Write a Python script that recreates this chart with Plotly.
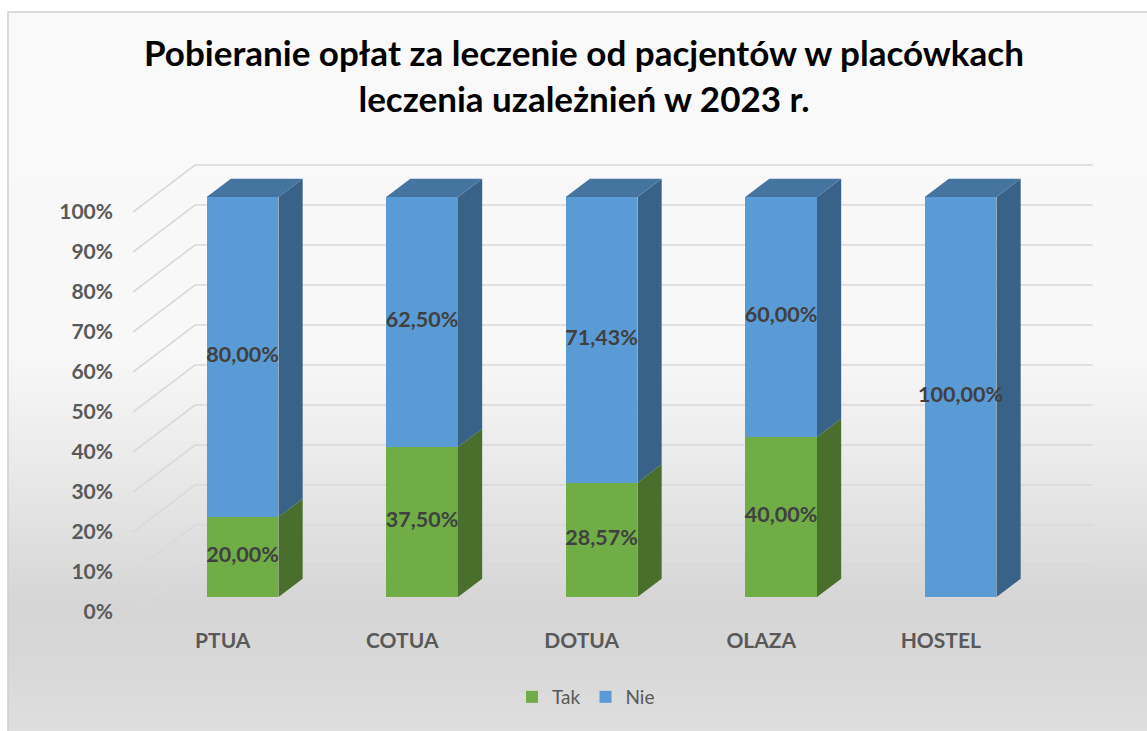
import base64
import struct
import zlib

import numpy as np
import plotly.graph_objects as go

# ---------------- data ----------------
categories = ["PTUA", "COTUA", "DOTUA", "OLAZA", "HOSTEL"]
tak = [0.20, 0.375, 0.2857, 0.40, 0.0]
nie = [0.80, 0.625, 0.7143, 0.60, 1.0]
series_names = ["Tak", "Nie"]
y_ticks = [0.0, 0.1, 0.2, 0.3, 0.4, 0.5, 0.6, 0.7, 0.8, 0.9, 1.0]
y_tick_labels = ["0%", "10%", "20%", "30%", "40%", "50%", "60%", "70%", "80%", "90%", "100%"]
title_text = "Pobieranie opłat za leczenie od pacjentów w placówkach<br>leczenia uzależnień w 2023 r."

# ---------------- styling / geometry ----------------
W, H = 1147, 731
plot_left, plot_right, plot_top, plot_bottom = 133, 1093, 150, 612
cat_px = 179.5          # pixels per category step
val_px = 400.0          # pixels per 100 %
depth_px = (62.0, 47.0)  # screen vector of the full chart depth
bar_front_z = 0.32
bar_depth_z = 0.39
bar_width = 0.40

col_green = "#70AD47"
col_green_side = "#4A6E2B"
col_green_top = "#5A8A37"
col_blue = "#5B9BD5"
col_blue_side = "#386287"
col_blue_top = "#4674A0"
grid_col = "#D9D9D9"
tick_col = "#595959"
label_col = "#404040"
FONT = "Lato"

x_range = [-0.5, -0.5 + (plot_right - plot_left) / cat_px]
y_range = [0.0, (plot_bottom - plot_top) / val_px]
ddx = depth_px[0] / cat_px
ddy = depth_px[1] / val_px
fx, fy = bar_front_z * ddx, bar_front_z * ddy
x2_range = [x_range[0] - fx, x_range[1] - fx]
y2_range = [y_range[0] - fy, y_range[1] - fy]
bdx, bdy = bar_depth_z * ddx, bar_depth_z * ddy

fig = go.Figure()

# ---- back wall + side wall gridlines (front-plane axes) ----
n = len(categories)
gx, gy = [], []
for v in y_ticks:
    gx += [-0.5, -0.5 + ddx, n - 0.5 + ddx, None]
    gy += [v, v + ddy, v + ddy, None]
fig.add_trace(go.Scatter(x=gx, y=gy, mode="lines", line=dict(color=grid_col, width=1.6),
                         hoverinfo="skip", showlegend=False, xaxis="x", yaxis="y"))

# ---- bar front faces (bar-plane axes) ----
xs = np.arange(n)
fig.add_trace(go.Bar(x=xs, y=tak, name=series_names[0], marker=dict(color=col_green, line=dict(width=0)),
                     width=bar_width, xaxis="x2", yaxis="y2",
                     hovertemplate="%{customdata}: %{y:.2%}<extra>Tak</extra>", customdata=categories))
fig.add_trace(go.Bar(x=xs, y=nie, name=series_names[1], marker=dict(color=col_blue, line=dict(width=0)),
                     width=bar_width, xaxis="x2", yaxis="y2",
                     hovertemplate="%{customdata}: %{y:.2%}<extra>Nie</extra>", customdata=categories))

# ---- side and top faces ----
def poly(px, py, color):
    fig.add_trace(go.Scatter(x=px, y=py, mode="lines", fill="toself", fillcolor=color,
                             line=dict(width=0, color=color), hoverinfo="skip",
                             showlegend=False, xaxis="x2", yaxis="y2"))

lab_x, lab_y, lab_t = [], [], []
for i in range(n):
    xl, xr = xs[i] - bar_width / 2, xs[i] + bar_width / 2
    base = 0.0
    top_col = col_blue_top
    for vals, side_c, top_c in ((tak, col_green_side, col_green_top), (nie, col_blue_side, col_blue_top)):
        v = vals[i]
        if v > 0:
            poly([xr, xr + bdx, xr + bdx, xr, xr],
                 [base, base + bdy, base + v + bdy, base + v, base], side_c)
            lab_x.append(xs[i])
            lab_y.append(base + v / 2)
            lab_t.append(f"{v * 100:.2f}%".replace(".", ","))
            top_col = top_c
        base += v
    poly([xl, xr, xr + bdx, xl + bdx, xl], [base, base, base + bdy, base + bdy, base], top_col)

# ---- data labels ----
fig.add_trace(go.Scatter(x=lab_x, y=lab_y, mode="text", text=lab_t,
                         textfont=dict(family=FONT, size=21.5, color=label_col, weight="bold"),
                         hoverinfo="skip", showlegend=False, xaxis="x2", yaxis="y2"))

# ---- background gradient image ----
def gradient_png(levels):
    raw = b"".join(b"\x00" + bytes([g, g, g]) for g in levels)

    def chunk(t, d):
        return struct.pack(">I", len(d)) + t + d + struct.pack(">I", zlib.crc32(t + d) & 0xFFFFFFFF)

    ihdr = struct.pack(">IIBBBBB", 1, len(levels), 8, 2, 0, 0, 0)
    png = b"\x89PNG\r\n\x1a\n" + chunk(b"IHDR", ihdr) + chunk(b"IDAT", zlib.compress(raw)) + chunk(b"IEND", b"")
    return "data:image/png;base64," + base64.b64encode(png).decode()

area_top, area_left = 12, 8
rows = np.arange(area_top, H + 1)
stop_y = [12, 350, 470, 600, 650, 731]
stop_g = [249, 248, 233, 214, 215, 222]
levels = [int(round(g)) for g in np.interp(rows, stop_y, stop_g)]

pw = plot_right - plot_left
ph = plot_bottom - plot_top
def px2paper_x(p):
    return (p - plot_left) / pw
def py2paper_y(p):
    return (plot_bottom - p) / ph

fig.add_layout_image(dict(source=gradient_png(levels), xref="paper", yref="paper",
                          x=px2paper_x(area_left), y=py2paper_y(area_top),
                          sizex=(W - area_left) / pw, sizey=(H + 1 - area_top) / ph,
                          xanchor="left", yanchor="top", sizing="stretch", layer="below"))
fig.add_shape(type="rect", xref="paper", yref="paper",
              x0=px2paper_x(area_left), x1=px2paper_x(W + 20),
              y0=py2paper_y(H + 20), y1=py2paper_y(area_top),
              line=dict(color="#D0D0D0", width=1.5), fillcolor="rgba(0,0,0,0)", layer="below")

fig.update_layout(
    width=W, height=H,
    margin=dict(l=plot_left, r=W - plot_right, t=plot_top, b=H - plot_bottom),
    paper_bgcolor="white", plot_bgcolor="rgba(0,0,0,0)",
    barmode="stack", separators=", ",
    title=dict(text="<b>" + title_text + "</b>", x=584 / W, xanchor="center",
               y=1 - 66 / H, yanchor="top", yref="container",
               font=dict(family=FONT, size=35, color="black")),
    xaxis=dict(range=x_range, tickvals=list(range(n)), ticktext=categories, showgrid=False,
               zeroline=False, showline=False, ticks="", ticklabelstandoff=14,
               tickfont=dict(family=FONT, size=21, color=tick_col, weight="bold"), fixedrange=True),
    yaxis=dict(range=y_range, tickvals=y_ticks, ticktext=y_tick_labels, showgrid=False,
               zeroline=False, showline=False, ticks="", ticklabelstandoff=19,
               tickfont=dict(family=FONT, size=21, color=tick_col, weight="bold"), fixedrange=True),
    xaxis2=dict(range=x2_range, overlaying="x", anchor="y2", visible=False, fixedrange=True),
    yaxis2=dict(range=y2_range, overlaying="y", anchor="x2", visible=False, fixedrange=True),
    legend=dict(orientation="h", x=px2paper_x(586), xanchor="center", y=py2paper_y(697),
                yanchor="middle", traceorder="normal", bgcolor="rgba(0,0,0,0)", itemwidth=30,
                font=dict(family=FONT, size=19, color=tick_col)),
    showlegend=True,
)

fig.write_html("out.html")
